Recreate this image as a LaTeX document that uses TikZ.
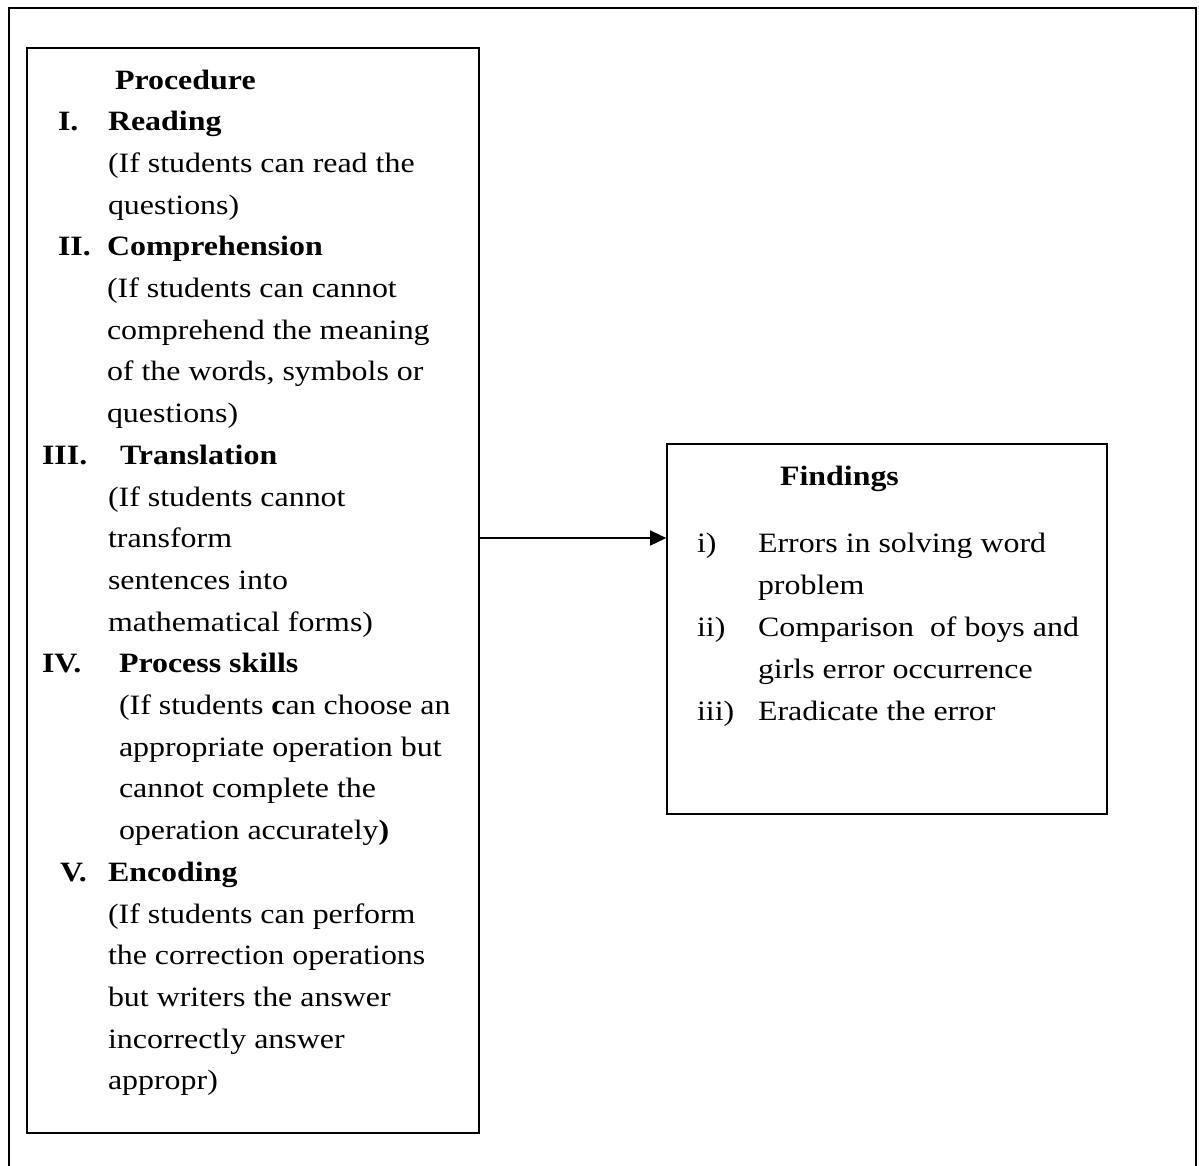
\documentclass[tikz,border=0pt]{standalone}
\usepackage{fontspec}
\setmainfont{Liberation Serif}[FakeStretch=1.14]
\usetikzlibrary{arrows.meta}
\tikzset{
  txt/.style={anchor=base west, inner sep=0pt, outer sep=0pt, font=\fontsize{28}{34}\selectfont},
  bx/.style={draw, line width=1.6pt, inner sep=0pt},
}
\begin{document}
\begin{tikzpicture}[x=1pt,y=-1pt]
\useasboundingbox (0,0) rectangle (1199,1165);
% outer frame (bottom edge lies below the picture)
\draw[line width=1.6pt] (9,1175) -- (9,8) -- (1196,8) -- (1196,1175);
% boxes
\node[bx, minimum width=452pt, minimum height=1085pt] (proc) at (253,590.5) {};
\node[bx, minimum width=440pt, minimum height=370pt] (find) at (887,629) {};
\coordinate (arr) at (0,538);
\draw[line width=1.5pt, -{Triangle[length=16pt,width=15pt]}] (proc.east |- arr) -- (find.west |- arr);
% Procedure text
\node[txt] (p0) at (115,89) {\textbf{Procedure}};
\node[txt] (n1) at (58,130.7) {\textbf{I.}};
\node[txt] (p1) at (108,130.7) {\textbf{Reading}};
\node[txt] (p2) at (108,172.4) {(If students can read the};
\node[txt] (p3) at (108,214.1) {questions)};
\node[txt] (n2) at (58,255.8) {\textbf{II.}};
\node[txt] (p4) at (107,255.8) {\textbf{Comprehension}};
\node[txt] (p5) at (107,297.5) {(If students can cannot};
\node[txt] (p6) at (107,339.2) {comprehend the meaning};
\node[txt] (p7) at (107,380.9) {of the words, symbols or};
\node[txt] (p8) at (107,422.6) {questions)};
\node[txt] (n3) at (42,464.3) {\textbf{III.}};
\node[txt] (p9) at (120,464.3) {\textbf{Translation}};
\node[txt] (p10) at (108,506) {(If students cannot};
\node[txt] (p11) at (108,547.7) {transform};
\node[txt] (p12) at (108,589.4) {sentences into};
\node[txt] (p13) at (108,631.1) {mathematical forms)};
\node[txt] (n4) at (42,672.8) {\textbf{IV.}};
\node[txt] (p14) at (119,672.8) {\textbf{Process skills}};
\node[txt] (p15) at (119,714.5) {(If students \textbf{c}an choose an};
\node[txt] (p16) at (119,756.2) {appropriate operation but};
\node[txt] (p17) at (119,797.9) {cannot complete the};
\node[txt] (p18) at (119,839.6) {operation accurately\textbf{)}};
\node[txt] (n5) at (60,881.3) {\textbf{V.}};
\node[txt] (p19) at (108,881.3) {\textbf{Encoding}};
\node[txt] (p20) at (108,923) {(If students can perform};
\node[txt] (p21) at (108,964.7) {the correction operations};
\node[txt] (p22) at (108,1006.4) {but writers the answer};
\node[txt] (p23) at (108,1048.1) {incorrectly answer};
\node[txt] (p24) at (108,1089.8) {appropr)};
% Findings text
\node[txt] (f0) at (780,485) {\textbf{Findings}};
\node[txt] (m1) at (697,552) {i)};
\node[txt] (f1) at (758,552) {Errors in solving word};
\node[txt] (f2) at (758,594) {problem};
\node[txt] (m2) at (697,636) {ii)};
\node[txt] (f3) at (758,636) {Comparison\ \ of boys and};
\node[txt] (f4) at (758,678) {girls error occurrence};
\node[txt] (m3) at (697,720) {iii)};
\node[txt] (f5) at (758,720) {Eradicate the error};
\end{tikzpicture}
\end{document}
